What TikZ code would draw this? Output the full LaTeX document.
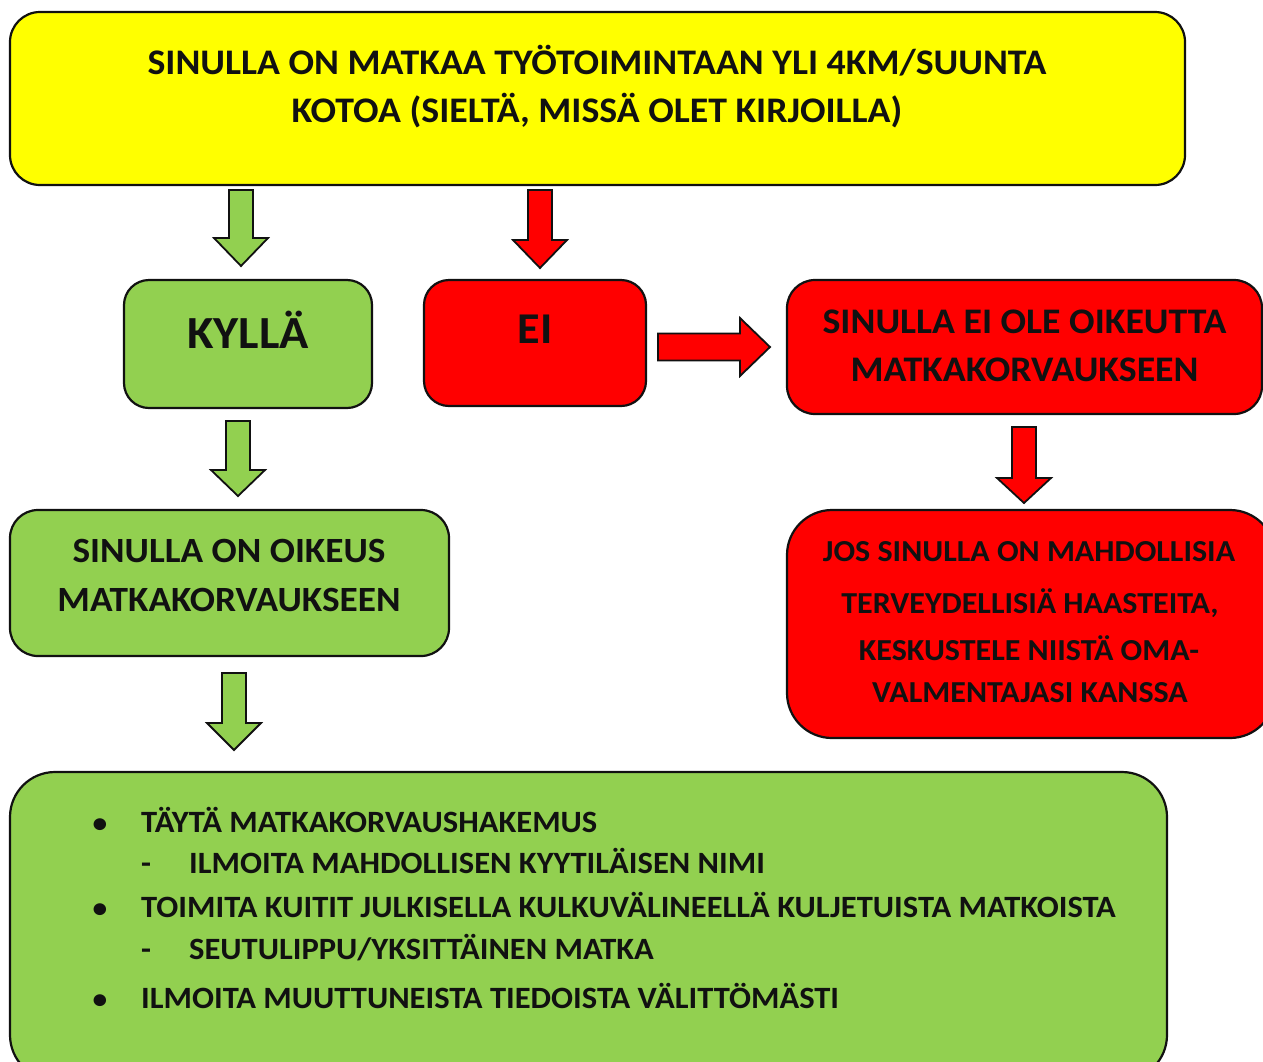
\documentclass[tikz,border=0pt]{standalone}
\usepackage{fontspec}
\setmainfont{Carlito}[FakeStretch=1.05]
\definecolor{ylw}{HTML}{FFFF00}
\definecolor{grn}{HTML}{92D050}
\definecolor{rd}{HTML}{FF0000}
\definecolor{bord}{HTML}{111111}
\newcommand\bdarrow[5]{% fill cx top base tip
  \draw[blk, fill=#1] (#2-12,-#3) -- (#2+12,-#3) -- (#2+12,-#4) -- (#2+27,-#4) -- (#2,-#5) -- (#2-27,-#4) -- (#2-12,-#4) -- cycle;}
\begin{document}
\begin{tikzpicture}[x=1pt,y=1pt,
  box/.style={draw=bord, line width=2.2pt, rounded corners=#1, inner sep=0pt, outer sep=0pt},
  blk/.style={draw=bord, line width=1.8pt, line join=miter},
  txt/.style={font=\fontsize{#1}{#1}\selectfont\bfseries, text=bord, inner sep=0pt, anchor=base},
  ltxt/.style={font=\fontsize{31}{31}\selectfont\bfseries, text=bord, inner sep=0pt, anchor=base west},
]
\path[use as bounding box, clip] (0,0) rectangle (1263,-1061);
\fill[white] (0,0) rectangle (1263,-1061);
% boxes
\node[box=30, fill=ylw, minimum width=1175pt, minimum height=173pt] (top) at (597.5,-98.5) {};
\node[box=25, fill=grn, minimum width=248pt, minimum height=128pt] (kylla) at (248,-344) {};
\node[box=25, fill=rd, minimum width=222pt, minimum height=126pt] (ei) at (535,-343) {};
\node[box=28, fill=rd, minimum width=475pt, minimum height=134pt] (noright) at (1024.5,-347) {};
\node[box=28, fill=grn, minimum width=439pt, minimum height=146pt] (right) at (229.5,-583) {};
\node[box=45, fill=rd, minimum width=488pt, minimum height=228pt] (health) at (1031,-624) {};
\node[box=45, fill=grn, minimum width=1157pt, minimum height=308pt] (todo) at (588.5,-926) {};
% block arrows
\bdarrow{grn}{241}{190}{238}{266}
\bdarrow{rd}{540}{190}{240}{268}
\bdarrow{grn}{238}{421}{470}{496}
\bdarrow{grn}{234}{673}{723}{750}
\bdarrow{rd}{1024}{427}{478}{503}
\draw[blk, fill=rd] (658,-333.5) -- (740,-333.5) -- (740,-318) -- (770,-347) -- (740,-376) -- (740,-360.5) -- (658,-360.5) -- cycle;
% texts
\node[txt=36] (t1) at (597,-74) {SINULLA ON MATKAA TYÖTOIMINTAAN YLI 4KM/SUUNTA};
\node[txt=36] (t2) at (597,-122) {KOTOA (SIELTÄ, MISSÄ OLET KIRJOILLA)};
\node[txt=46] (tk) at (248,-348) {KYLLÄ};
\node[txt=44] (te) at (535,-343) {EI};
\node[txt=36] (tn1) at (1024.5,-333) {SINULLA EI OLE OIKEUTTA};
\node[txt=36] (tn2) at (1024.5,-381) {MATKAKORVAUKSEEN};
\node[txt=35.5] (tr1) at (229,-562) {SINULLA ON OIKEUS};
\node[txt=35.5] (tr2) at (229,-611) {MATKAKORVAUKSEEN};
\node[txt=30.5] (th1) at (1029,-561) {JOS SINULLA ON MAHDOLLISIA};
\node[txt=30.5] (th2) at (1030,-613) {TERVEYDELLISIÄ HAASTEITA,};
\node[txt=30.5] (th3) at (1029,-660) {KESKUSTELE NIISTÄ OMA-};
\node[txt=30.5] (th4) at (1030,-702) {VALMENTAJASI KANSSA};
% list
\node[txt=28] (b1) at (100,-832) {•};
\node[ltxt] (l1) at (141,-832) {TÄYTÄ MATKAKORVAUSHAKEMUS};
\node[txt=31] (d1) at (146,-873) {-};
\node[ltxt] (l2) at (189,-873) {ILMOITA MAHDOLLISEN KYYTILÄISEN NIMI};
\node[txt=28] (b2) at (100,-917) {•};
\node[ltxt] (l3) at (141,-917) {TOIMITA KUITIT JULKISELLA KULKUVÄLINEELLÄ KULJETUISTA MATKOISTA};
\node[txt=31] (d2) at (146,-959) {-};
\node[ltxt] (l4) at (189,-959) {SEUTULIPPU/YKSITTÄINEN MATKA};
\node[txt=28] (b3) at (100,-1008) {•};
\node[ltxt] (l5) at (141,-1008) {ILMOITA MUUTTUNEISTA TIEDOISTA VÄLITTÖMÄSTI};
\end{tikzpicture}
\end{document}
